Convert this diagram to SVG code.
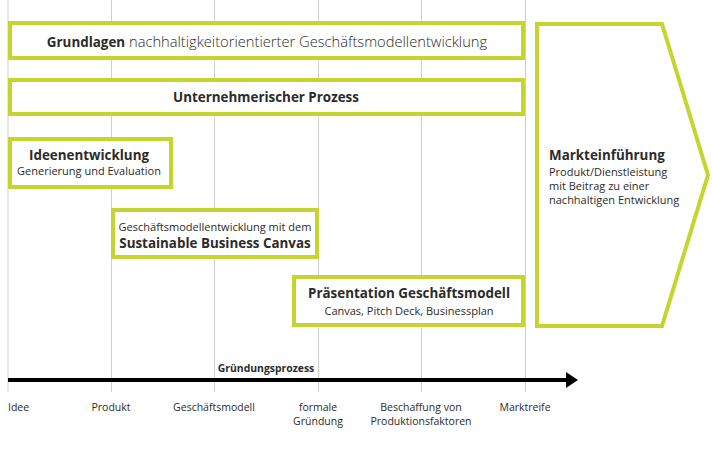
<svg xmlns="http://www.w3.org/2000/svg" width="712" height="450" viewBox="0 0 712 450">
<style>
.grid{stroke:#cfcfcf;stroke-width:1}
.box{fill:#fff;stroke:#c5d530;stroke-width:4}
text{font-family:"Open Sans","Liberation Sans",sans-serif;fill:#2b2b2b}
.b{font-weight:700}
.h{font-size:13.4px;font-weight:700}
.s{font-size:11px}
.l{font-weight:300}
.ax{font-size:10.5px}
</style>
<rect width="712" height="450" fill="#fff"/>
<g id="grid">
<line class="grid" x1="8" y1="0" x2="8" y2="392"/>
<line class="grid" x1="111.5" y1="0" x2="111.5" y2="392"/>
<line class="grid" x1="214.5" y1="0" x2="214.5" y2="392"/>
<line class="grid" x1="318.5" y1="0" x2="318.5" y2="392"/>
<line class="grid" x1="421.5" y1="0" x2="421.5" y2="392"/>
<line class="grid" x1="525.5" y1="0" x2="525.5" y2="392"/>
</g>
<g id="grundlagen">
<rect class="box" x="10" y="23" width="513" height="35"/>
<text x="267" y="47" text-anchor="middle"><tspan class="b" font-size="13.4">Grundlagen</tspan><tspan class="l" font-size="14.7"> nachhaltigkeitorientierter Geschäftsmodellentwicklung</tspan></text>
</g>
<g id="unternehmerisch">
<rect class="box" x="10" y="80" width="513" height="34"/>
<text class="h" x="266" y="102" text-anchor="middle">Unternehmerischer Prozess</text>
</g>
<g id="markteinfuehrung">
<polygon class="box" points="537,24 662,24 708,175 662,326 537,326"/>
<text class="h" x="549" y="160">Markteinführung</text>
<text class="s" x="549" y="176" font-size="11.3">Produkt/Dienstleistung</text>
<text class="s" x="549" y="190" font-size="11.3">mit Beitrag zu einer</text>
<text class="s" x="549" y="204" font-size="11.3">nachhaltigen Entwicklung</text>
</g>
<g id="ideenentwicklung">
<rect class="box" x="10" y="139" width="161" height="48"/>
<text class="h" x="89" y="160" text-anchor="middle">Ideenentwicklung</text>
<text class="s" x="89" y="175" text-anchor="middle">Generierung und Evaluation</text>
</g>
<g id="sbc">
<rect class="box" x="113" y="210" width="204" height="47"/>
<text class="s" x="215" y="231" text-anchor="middle">Geschäftsmodellentwicklung mit dem</text>
<text class="h" x="215" y="248" text-anchor="middle">Sustainable Business Canvas</text>
</g>
<g id="praesentation">
<rect class="box" x="294" y="277" width="229" height="48"/>
<text class="h" x="409" y="298" text-anchor="middle">Präsentation Geschäftsmodell</text>
<text class="s" x="409" y="315" text-anchor="middle">Canvas, Pitch Deck, Businessplan</text>
</g>
<g id="connectors">
<line x1="8" y1="380" x2="568" y2="380" stroke="#000" stroke-width="4"/>
<polygon points="566,372 578,380 566,388" fill="#000"/>
</g>
<g id="axis-labels">
<text class="b" x="266" y="372" font-size="10.4" text-anchor="middle">Gründungsprozess</text>
<text class="ax" x="8" y="411">Idee</text>
<text class="ax" x="111" y="411" text-anchor="middle">Produkt</text>
<text class="ax" x="214" y="411" text-anchor="middle">Geschäftsmodell</text>
<text class="ax" x="318" y="411" text-anchor="middle">formale</text>
<text class="ax" x="318" y="425" text-anchor="middle">Gründung</text>
<text class="ax" x="421" y="411" text-anchor="middle">Beschaffung von</text>
<text class="ax" x="421" y="425" text-anchor="middle">Produktionsfaktoren</text>
<text class="ax" x="525" y="411" text-anchor="middle">Marktreife</text>
</g>
</svg>
